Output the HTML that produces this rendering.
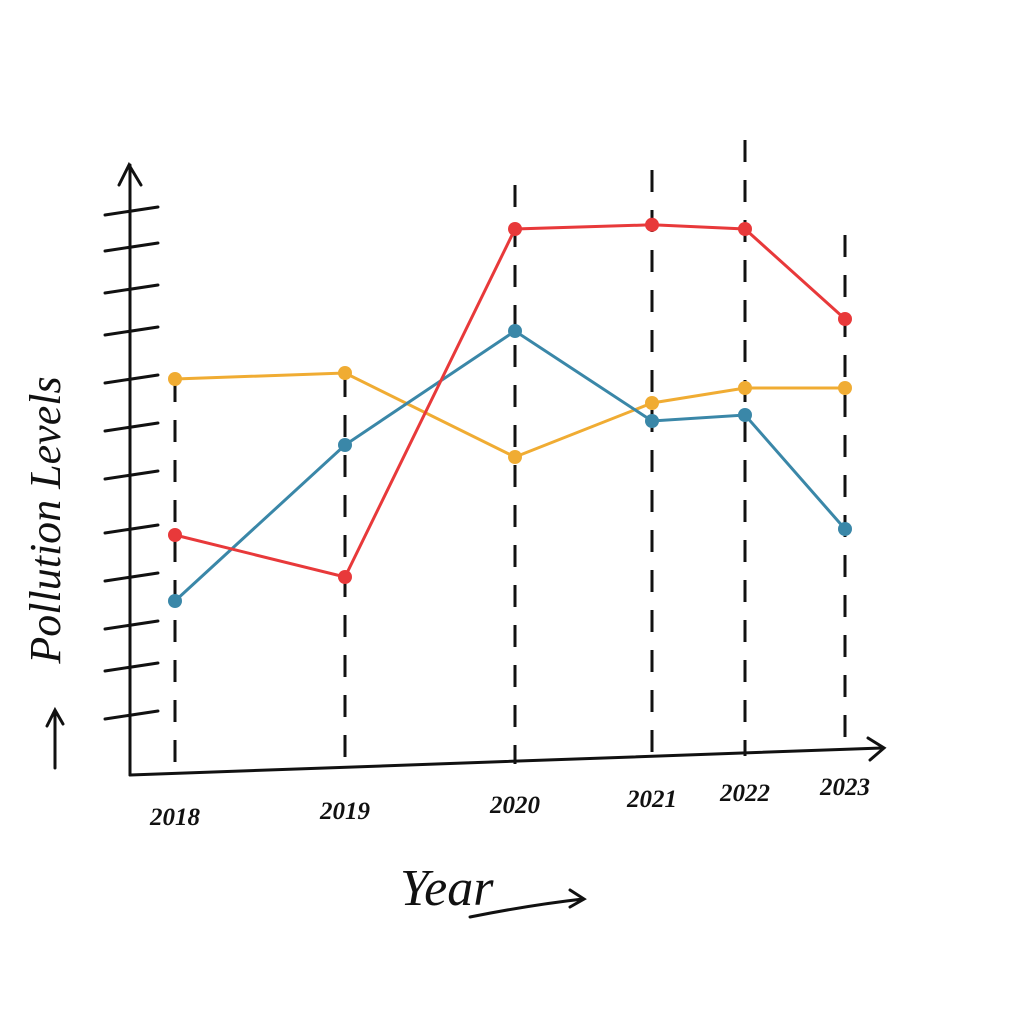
<!DOCTYPE html>
<html><head><meta charset="utf-8"><style>
html,body{margin:0;padding:0;background:#fff;}
svg{display:block;}
</style></head><body>
<svg id="chart" width="1024" height="1024" viewBox="0 0 1024 1024">
<rect width="1024" height="1024" fill="#fff"/>
<g id="grid"></g>
<g id="axes" stroke="#111" stroke-width="3" fill="none" stroke-linecap="round">
  <path d="M130 775 L130 165"/>
  <path d="M119 185 L129 165 L141 185"/>
  <path d="M130 775 L882 748"/>
  <path d="M868 738 L884 748 L870 760"/>
  <path d="M55 768 L55 712 M47 726 L55 710 L63 724"/>
  <path d="M470 917 Q530 905 583 899 M570 890 L584 899 L570 907"/>
</g>
<g id="ticks" stroke="#111" stroke-width="3" stroke-linecap="round"></g>
<g id="xlabels" font-family="Liberation Serif, serif" font-style="italic" font-weight="bold" font-size="25" fill="#111"></g>
<g id="series"></g>
<text x="60" y="520" transform="rotate(-90 60 520)" text-anchor="middle" font-family="Liberation Serif, serif" font-style="italic" font-size="44" fill="#111">Pollution Levels</text>
<text x="400" y="905" font-family="Liberation Serif, serif" font-style="italic" font-size="52" fill="#111">Year</text>
</svg>
<script>
const years = ['2018','2019','2020','2021','2022','2023'];
const red = [40, 33, 91, 91.7, 91, 76];
const blue = [29, 55, 74, 59, 60, 41];
const orange = [66, 67, 53, 62, 64.5, 64.5];
const yTicks = [10, 18, 25, 33, 41, 50, 58, 66, 74, 81, 88, 94];

const NS = 'http://www.w3.org/2000/svg';
const xPos = [175, 345, 515, 652, 745, 845];
function xs(i){ return xPos[i]; }
function ys(v){ return 775 - v*6; }

const grid = document.getElementById('grid');
const guideTop = [380, 375, 185, 170, 140, 235];
years.forEach((y,i)=>{
  const l = document.createElementNS(NS,'line');
  
  
  l.setAttribute('x1', xs(i)); l.setAttribute('x2', xs(i));
  l.setAttribute('y1', guideTop[i]); l.setAttribute('y2', 772 - i*4);
  l.setAttribute('stroke','#111'); l.setAttribute('stroke-width','3');
  l.setAttribute('stroke-dasharray','22 18');
  grid.appendChild(l);
});

const ticks = document.getElementById('ticks');
yTicks.forEach(v=>{
  const l = document.createElementNS(NS,'line');
  
  
  l.setAttribute('x1', 105); l.setAttribute('x2', 158);
  l.setAttribute('y1', ys(v)+4); l.setAttribute('y2', ys(v)-4);
  ticks.appendChild(l);
});

const xl = document.getElementById('xlabels');
years.forEach((y,i)=>{
  const t = document.createElementNS(NS,'text');
  
  
  t.setAttribute('x', xs(i)); t.setAttribute('y', 825 - i*6);
  t.setAttribute('text-anchor','middle');
  t.textContent = y;
  xl.appendChild(t);
});

const sg = document.getElementById('series');
[[orange,'#f0ac33','orange-series'],[blue,'#3a87a8','blue-series'],[red,'#e8393a','red-series']].forEach(([d,c,n])=>{
  const p = document.createElementNS(NS,'polyline');
  
  
  p.setAttribute('points', d.map((v,i)=>xs(i)+','+ys(v)).join(' '));
  p.setAttribute('fill','none'); p.setAttribute('stroke',c); p.setAttribute('stroke-width','3');
  sg.appendChild(p);
  d.forEach((v,i)=>{
    const m = document.createElementNS(NS,'circle');
    
    
    m.setAttribute('cx', xs(i)); m.setAttribute('cy', ys(v)); m.setAttribute('r', 7);
    m.setAttribute('fill', c);
    sg.appendChild(m);
  });
});
</script>
</body></html>
